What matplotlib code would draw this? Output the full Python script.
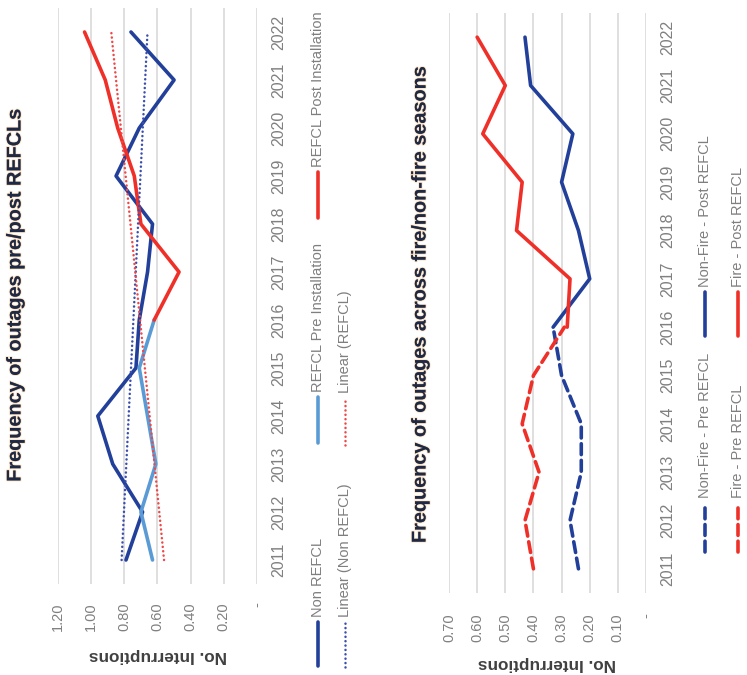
import numpy as np
import matplotlib
matplotlib.use("Agg")
import matplotlib.pyplot as plt
from matplotlib.lines import Line2D
import matplotlib.patheffects as pe

plt.rcParams['font.family'] = ['Liberation Sans', 'DejaVu Sans']

# ---------------- data ----------------
years = list(range(2011, 2023))
years_pre = list(range(2011, 2017))
years_post = list(range(2016, 2023))

# Chart 1: outages pre/post REFCL
non_refcl = [0.79, 0.69, 0.87, 0.96, 0.73, 0.71, 0.66, 0.63, 0.85, 0.71, 0.50, 0.76]
refcl_pre = [0.63, 0.70, 0.61, 0.66, 0.71, 0.62]
refcl_post = [0.62, 0.47, 0.70, 0.74, 0.84, 0.915, 1.04]

# Chart 2: outages across fire / non-fire seasons
nonfire_pre = [0.24, 0.27, 0.23, 0.23, 0.30, 0.33]
nonfire_post = [0.33, 0.20, 0.24, 0.30, 0.26, 0.41, 0.43]
fire_pre = [0.40, 0.43, 0.38, 0.44, 0.40, 0.29]
fire_post = [0.28, 0.27, 0.46, 0.44, 0.58, 0.50, 0.60]

ticks1 = [0.0, 0.2, 0.4, 0.6, 0.8, 1.0, 1.2]
ticklabels1 = ['-', '0.20', '0.40', '0.60', '0.80', '1.00', '1.20']
ticks2 = [0.0, 0.1, 0.2, 0.3, 0.4, 0.5, 0.6, 0.7]
ticklabels2 = ['-', '0.10', '0.20', '0.30', '0.40', '0.50', '0.60', '0.70']

title1 = 'Frequency of outages pre/post REFCLs'
title2 = 'Frequency of outages across fire/non-fire seasons'
axis_label = 'No. Interruptions'

# ---------------- style ----------------
DARK_BLUE = '#22409A'
LIGHT_BLUE = '#5B9BD5'
RED = '#EF3029'
GRID = '#D9D9D9'
TICK_GREY = '#808080'
LEG_GREY = '#7F7F7F'
TITLE_COL = '#1E2A45'

W, H = 747, 675
fig = plt.figure(figsize=(W / 100, H / 100), dpi=100)
fig.patch.set_facecolor('white')


def fx(px):
    return px / W


def fy(py):
    return 1 - py / H


def setup_axes(ax, vmax, ticks, labels, xpad, ypad):
    ax.set_xlim(vmax, 0)
    ax.set_ylim(2010.5, 2022.5)
    ax.set_xticks(ticks)
    ax.set_xticklabels(labels)
    ax.set_yticks(years)
    ax.set_yticklabels([str(y) for y in years])
    ax.yaxis.tick_right()
    for s in ax.spines.values():
        s.set_visible(False)
    ax.grid(axis='x', color=GRID, linewidth=1.2)
    ax.set_axisbelow(True)
    ax.tick_params(axis='x', length=0, pad=xpad, labelsize=10.5,
                   labelcolor=TICK_GREY, labelrotation=90)
    ax.tick_params(axis='y', length=0, pad=ypad, labelsize=11.5,
                   labelcolor=TICK_GREY, labelrotation=90)
    for t in ax.get_yticklabels():
        t.set_va('center')


# ---------------- chart 1 ----------------
ax1 = fig.add_axes([fx(58), fy(584), fx(257) - fx(58), (584 - 8) / H])
setup_axes(ax1, 1.2, ticks1, ticklabels1, 13, 10.5)

lw = 2.6
ax1.plot(non_refcl, years, color=DARK_BLUE, lw=lw, solid_capstyle='round', zorder=3)
ax1.plot(refcl_pre, years_pre, color=LIGHT_BLUE, lw=lw, solid_capstyle='round', zorder=3)
ax1.plot(refcl_post, years_post, color=RED, lw=lw, solid_capstyle='round', zorder=3)

# linear trend lines
yrs = np.array(years, dtype=float)
k_non = np.polyfit(yrs, non_refcl, 1)
refcl_all = refcl_pre[:-1] + refcl_post
k_ref = np.polyfit(yrs, refcl_all, 1)
dot = (0, (0.05, 1.7))
ax1.plot(np.polyval(k_non, yrs), yrs, color='#3B4FB0', lw=1.8, linestyle=dot,
         dash_capstyle='round', zorder=4)
ax1.plot(np.polyval(k_ref, yrs), yrs, color='#F04848', lw=1.8, linestyle=dot,
         dash_capstyle='round', zorder=4)

# ---------------- chart 2 ----------------
ax2 = fig.add_axes([fx(449), fy(593), fx(646) - fx(449), (593 - 13) / H])
setup_axes(ax2, 0.7, ticks2, ticklabels2, 14.5, 10)

dash = (0, (3.0, 1.6))
ax2.plot(nonfire_pre, years_pre, color=DARK_BLUE, lw=lw, linestyle=dash,
         dash_capstyle='round', zorder=3)
ax2.plot(fire_pre, years_pre, color=RED, lw=lw, linestyle=dash,
         dash_capstyle='round', zorder=3)
ax2.plot(nonfire_post, years_post, color=DARK_BLUE, lw=lw, solid_capstyle='round', zorder=3)
ax2.plot(fire_post, years_post, color=RED, lw=lw, solid_capstyle='round', zorder=3)

# ---------------- titles and axis labels ----------------
glow = [pe.withStroke(linewidth=1.4, foreground=(0.97, 0.70, 0.40, 0.35))]
fig.text(fx(15), fy(295), title1, rotation=90, ha='center', va='center',
         fontsize=14.3, fontweight='bold', color=TITLE_COL, path_effects=glow)
fig.text(fx(420), fy(304), title2, rotation=90, ha='center', va='center',
         fontsize=14.3, fontweight='bold', color=TITLE_COL, path_effects=glow)

fig.text(fx(158), fy(655), axis_label, rotation=180, ha='center', va='center',
         fontsize=12.3, fontweight='bold', color='#404040')
fig.text(fx(547), fy(663), axis_label, rotation=180, ha='center', va='center',
         fontsize=12.3, fontweight='bold', color='#404040')


# ---------------- legends (vertical) ----------------
def legend_entry(x, y0, y1, color, style, label, lwid=lw):
    kw = dict(color=color, lw=lwid, transform=fig.transFigure)
    if style == 'solid':
        kw.update(solid_capstyle='round')
    elif style == 'dash':
        kw.update(linestyle=dash, dash_capstyle='round')
    else:
        kw.update(linestyle=dot, dash_capstyle='round')
    fig.add_artist(Line2D([fx(x), fx(x)], [fy(y0), fy(y1)], **kw))
    fig.text(fx(x), fy(y1 - 5), label, rotation=90, ha='center', va='bottom',
             fontsize=10.5, color=LEG_GREY)


legend_entry(318, 666, 622, DARK_BLUE, 'solid', 'Non REFCL')
legend_entry(318, 443, 397, LIGHT_BLUE, 'solid', 'REFCL Pre Installation')
legend_entry(318, 218, 172, RED, 'solid', 'REFCL Post Installation')
legend_entry(345, 667, 622, '#3B4FB0', 'dot', 'Linear (Non REFCL)', 1.8)
legend_entry(345, 445, 398, '#F04848', 'dot', 'Linear (REFCL)', 1.8)

legend_entry(705, 552, 503, DARK_BLUE, 'dash', 'Non-Fire - Pre REFCL')
legend_entry(705, 336, 292, DARK_BLUE, 'solid', 'Non-Fire - Post REFCL')
legend_entry(738, 552, 503, RED, 'dash', 'Fire - Pre REFCL')
legend_entry(738, 336, 292, RED, 'solid', 'Fire - Post REFCL')

fig.savefig('out.png', dpi=100, facecolor='white')
